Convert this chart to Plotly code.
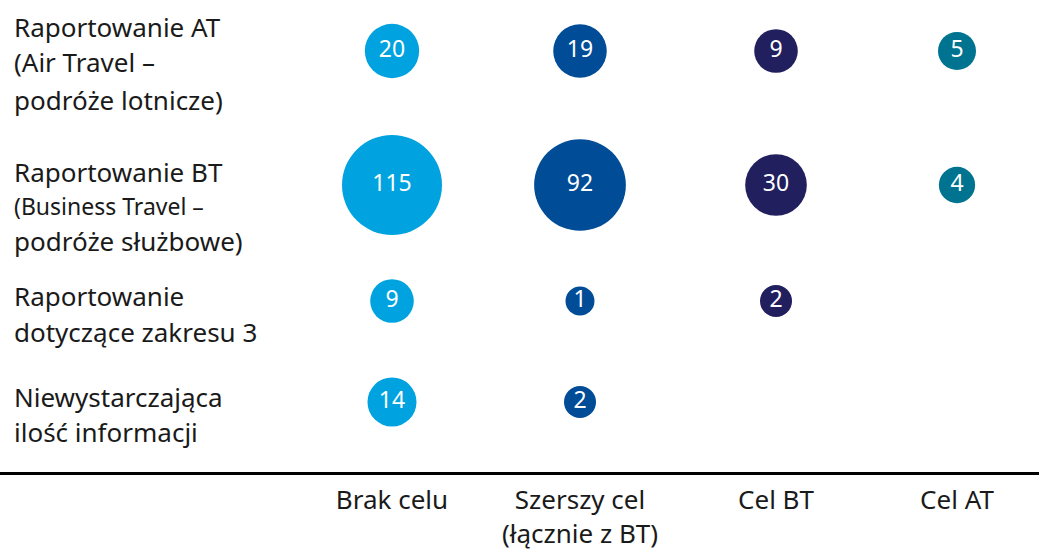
import math
import plotly.graph_objects as go

# ---- data ----
columns = ["Brak celu", "Szerszy cel<br>(łącznie z BT)", "Cel BT", "Cel AT"]
row_label_lines = [
    ["Raportowanie AT", "(Air Travel –", "podróże lotnicze)"],
    ["Raportowanie BT", "(Business Travel –", "podróże służbowe)"],
    ["Raportowanie", "dotyczące zakresu 3"],
    ["Niewystarczająca", "ilość informacji"],
]
brak_celu = [20, 115, 9, 14]
szerszy_cel = [19, 92, 1, 2]
cel_bt = [9, 30, 2, None]
cel_at = [5, 4, None, None]
series = [brak_celu, szerszy_cel, cel_bt, cel_at]

# ---- layout / style ----
colors = ["#00A3E0", "#004C97", "#221F5F", "#007391"]
col_x = [392, 580, 776, 957]
row_y = [51, 185, 301, 402]
row_line_y = [[27, 62, 100], [172, 206, 241], [296, 332], [397, 432]]
row_line_size = [[26, 26, 26], [26, 23, 26], [26, 26], [26, 26]]
FONT = "Noto Sans"


def diam(v):
    return 21.7 + 7.3 * math.sqrt(v)


fig = go.Figure()
for vals, cx, col in zip(series, col_x, colors):
    xs, ys, sz, tx = [], [], [], []
    for v, ry in zip(vals, row_y):
        if v is None:
            continue
        xs.append(cx)
        ys.append(ry)
        sz.append(diam(v))
        tx.append(str(v))
    fig.add_trace(go.Scatter(
        x=xs, y=ys, mode="markers+text", text=tx,
        textposition="middle center",
        textfont=dict(family=FONT, size=23, color="white"),
        marker=dict(size=sz, color=col, line=dict(width=0), opacity=1),
        hoverinfo="skip", showlegend=False, cliponaxis=False,
    ))

for lines, ys, sizes in zip(row_label_lines, row_line_y, row_line_size):
    for t, y, s in zip(lines, ys, sizes):
        fig.add_annotation(x=12, y=y, xref="x", yref="y", text=t, showarrow=False,
                           xanchor="left", yanchor="middle",
                           font=dict(family=FONT, size=s, color="#1a1a1a"))

fig.update_layout(
    width=1039, height=552,
    margin=dict(l=0, r=0, t=0, b=80),
    paper_bgcolor="white", plot_bgcolor="white",
    font=dict(family=FONT, color="#1a1a1a"),
    xaxis=dict(range=[0, 1039], tickvals=col_x, ticktext=columns,
               showline=True, linecolor="black", linewidth=3,
               showgrid=False, zeroline=False, ticks="",
               ticklabelstandoff=3,
               tickfont=dict(family=FONT, size=26, color="#1a1a1a"),
               fixedrange=True),
    yaxis=dict(range=[472, 0], visible=False, showgrid=False, zeroline=False,
               fixedrange=True),
)

fig.write_html("out.html", config={"displayModeBar": False},
               post_script="document.body.style.margin='0';")
